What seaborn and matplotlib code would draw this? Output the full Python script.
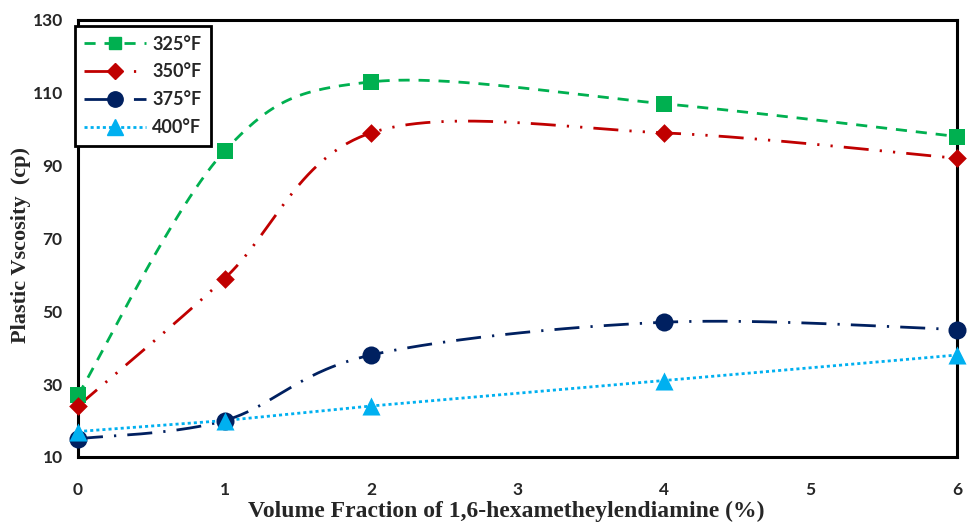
import numpy as np
import matplotlib
matplotlib.use("Agg")
import matplotlib.pyplot as plt
from matplotlib.lines import Line2D
import seaborn as sns

x_vals = [0, 1, 2, 4, 6]
y_325 = [27, 94, 113, 107, 98]
y_350 = [24, 59, 99, 99, 92]
y_375 = [15, 20, 38, 47, 45]
y_400 = [17, 20, 24, 31, 38]
labels = ["325°F", "350°F", "375°F", "400°F"]
x_ticks = [0, 1, 2, 3, 4, 5, 6]
y_ticks = [10, 30, 50, 70, 90, 110, 130]

sns.set_style("white")
plt.rcParams['font.family'] = ['Lato', 'DejaVu Sans']


def smooth(xs, ys, n=60):
    """Excel-like smoothed line (Catmull-Rom style cubic Bezier)."""
    P = np.column_stack([xs, ys]).astype(float)
    out = []
    m = len(P)
    for i in range(m - 1):
        p0 = P[i - 1] if i > 0 else P[i]
        p1 = P[i]
        p2 = P[i + 1]
        p3 = P[i + 2] if i + 2 < m else P[i + 1]
        c1 = p1 + (p2 - p0) / 6.0
        c2 = p2 - (p3 - p1) / 6.0
        t = np.linspace(0, 1, n)[:, None]
        seg = ((1 - t) ** 3) * p1 + 3 * ((1 - t) ** 2) * t * c1 + 3 * (1 - t) * t ** 2 * c2 + t ** 3 * p2
        out.append(seg if i == 0 else seg[1:])
    out = np.vstack(out)
    return out[:, 0], out[:, 1]


fig = plt.figure(figsize=(9.68, 5.23), dpi=100)
ax = fig.add_axes([0.0806, 0.1262, 0.9080, 0.8356])

series = [
    (y_325, "#00B050", (4, 3.2), "s", 11, True),
    (y_350, "#C00000", (9, 4, 0.8, 4, 0.8, 4), "D", 9.5, True),
    (y_375, "#002060", (9, 4, 0.8, 4), "o", 13, True),
    (y_400, "#00B0F0", (1.1, 1.1), "^", 13, False),
]

handles = []
for (ys, col, dash, mk, ms, sm), lab in zip(series, labels):
    if sm:
        sx, sy = smooth(x_vals, ys)
    else:
        sx, sy = np.array(x_vals, float), np.array(ys, float)
    ln, = ax.plot(sx, sy, color=col, lw=2.0, dashes=dash, zorder=3, clip_on=False)
    sns.scatterplot(x=x_vals, y=ys, ax=ax, marker=mk, s=ms ** 2, color=col,
                    edgecolor=col, linewidth=0, zorder=4, clip_on=False, legend=False)
    handles.append(Line2D([0], [0], color=col, lw=2.0, dashes=dash, marker=mk,
                          markersize=ms * 0.85, markerfacecolor=col, markeredgecolor=col))

ax.set_xlim(0, 6)
ax.set_ylim(10, 130)
ax.set_xticks(x_ticks)
ax.set_yticks(y_ticks)
for s in ax.spines.values():
    s.set_visible(True)
    s.set_color("black")
    s.set_linewidth(2.2)
ax.tick_params(axis="both", direction="out", length=5, width=2, color="black",
               labelsize=12.5)
ax.tick_params(axis="x", pad=13)
ax.tick_params(axis="y", pad=6)
for t in ax.get_xticklabels() + ax.get_yticklabels():
    t.set_fontweight("bold")
ax.grid(False)

ax.set_xlabel("Volume Fraction of 1,6-hexametheylendiamine (%)",
              family=["Liberation Serif", "DejaVu Serif"], fontweight="bold", fontsize=17)
ax.set_ylabel("Plastic Vscosity  (cp)",
              family=["Liberation Serif", "DejaVu Serif"], fontweight="bold", fontsize=16)
ax.xaxis.set_label_coords(0.487, -0.100)
ax.yaxis.set_label_coords(-0.054, 0.485)

leg = ax.legend(handles, labels, loc="upper left", bbox_to_anchor=(-0.004, 0.987),
                borderaxespad=0,
                prop={"family": ["Lato", "DejaVu Sans"], "weight": "bold", "size": 13},
                frameon=True, fancybox=False, edgecolor="black", framealpha=1,
                handlelength=3.4, handletextpad=0.35, labelspacing=0.6, borderpad=0.55)
leg.get_frame().set_linewidth(2.0)
leg.set_zorder(5)

fig.savefig("out.png", dpi=100)
